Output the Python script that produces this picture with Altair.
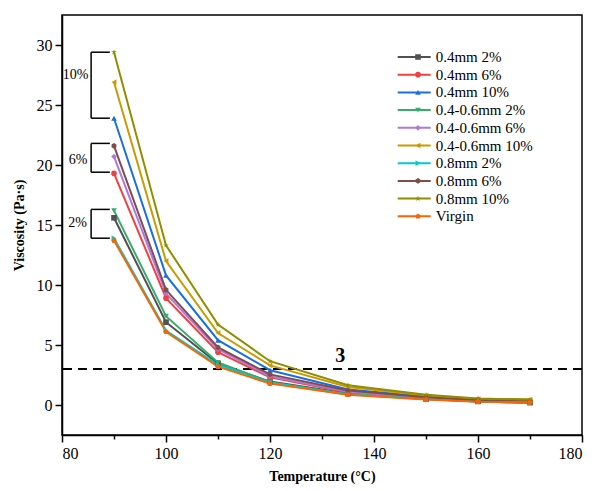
import altair as alt
import pandas as pd

temps = [90, 100, 110, 120, 135, 150, 160, 170]
series = ["0.4mm 2%", "0.4mm 6%", "0.4mm 10%", "0.4-0.6mm 2%", "0.4-0.6mm 6%",
          "0.4-0.6mm 10%", "0.8mm 2%", "0.8mm 6%", "0.8mm 10%", "Virgin"]
values = {
    "0.4mm 2%":      [15.6, 6.9, 3.45, 1.95, 0.95, 0.50, 0.30, 0.20],
    "0.4mm 6%":      [19.3, 8.9, 4.40, 2.30, 1.05, 0.55, 0.35, 0.28],
    "0.4mm 10%":     [23.9, 10.8, 5.40, 2.90, 1.30, 0.70, 0.45, 0.35],
    "0.4-0.6mm 2%":  [16.2, 7.4, 3.55, 1.90, 0.90, 0.50, 0.30, 0.15],
    "0.4-0.6mm 6%":  [20.7, 9.3, 4.65, 2.40, 1.10, 0.60, 0.40, 0.30],
    "0.4-0.6mm 10%": [26.9, 12.0, 6.00, 3.30, 1.50, 0.80, 0.50, 0.45],
    "0.8mm 2%":      [13.9, 6.2, 3.35, 1.85, 0.88, 0.50, 0.30, 0.20],
    "0.8mm 6%":      [21.6, 9.6, 4.80, 2.55, 1.20, 0.65, 0.40, 0.30],
    "0.8mm 10%":     [29.4, 13.3, 6.70, 3.65, 1.65, 0.85, 0.55, 0.45],
    "Virgin":        [13.7, 6.1, 3.20, 1.78, 0.85, 0.45, 0.28, 0.22],
}
colors = ["#515151", "#F14040", "#1A6FDF", "#37AD6B", "#B177DE",
          "#CC9900", "#00CBCC", "#7D4E4E", "#8E8E00", "#FB6501"]
hexagon = "M0,-1L0.866,-0.5L0.866,0.5L0,1L-0.866,0.5L-0.866,-0.5Z"
pentagon = "M0,-1L0.951,-0.309L0.588,0.809L-0.588,0.809L-0.951,-0.309Z"
star = ("M0,-1L0.235,-0.324L0.951,-0.309L0.380,0.124L0.588,0.809L0,0.4"
        "L-0.588,0.809L-0.380,0.124L-0.951,-0.309L-0.235,-0.324Z")
shapes = ["square", "circle", "triangle-up", "triangle-down", "diamond",
          "triangle-left", "triangle-right", hexagon, star, pentagon]

threshold = [3]
threshold_label = ["3"]
threshold_label_x = [133.5]
threshold_label_y = [4.05]

bracket_labels = ["10%", "6%", "2%"]
bracket_top = [29.4, 21.8, 16.3]
bracket_bottom = [23.9, 19.4, 13.9]
bracket_label_y = [27.5, 20.4, 15.15]
bracket_label_x = [82.6, 83.1, 83.0]
bracket_x_left = 85.6
bracket_x_right = 89.2

rows = []
for s in series:
    for t, v in zip(temps, values[s]):
        rows.append({"Temperature": t, "Viscosity": v, "Series": s})
df = pd.DataFrame(rows)

FONT = "Liberation Serif"
xscale = alt.Scale(domain=[80, 180], nice=False, zero=False)
yscale = alt.Scale(domain=[-2.5, 32.5], nice=False, zero=False)

x_ticks = list(range(80, 181, 10))
y_ticks = [i * 2.5 for i in range(0, 13)]

xaxis = alt.Axis(values=x_ticks, labelExpr="datum.value % 20 === 0 ? datum.label : ''",
                 tickSize={"condition": {"test": "datum.value % 20 !== 0", "value": 4}, "value": 7},
                 title="Temperature (°C)", titleY=41, titleBaseline="middle",
                 labelPadding=3, grid=False)
yaxis = alt.Axis(values=y_ticks, labelExpr="datum.value % 5 === 0 ? datum.label : ''",
                 tickSize={"condition": {"test": "datum.value % 5 !== 0", "value": 4}, "value": 7},
                 title="Viscosity (Pa·s)", titleX=-43, titleY=210, titleAngle=-90,
                 titleAlign="center", titleBaseline="middle", labelPadding=3, grid=False)

marker_legend = alt.Legend(title=None, orient="none", legendX=348.5, legendY=35,
                           symbolSize=32, symbolStrokeWidth=0, symbolOpacity=1,
                           labelExpr="''", labelFont=FONT, labelFontSize=15,
                           clipHeight=14, rowPadding=2.7, padding=0)

base = alt.Chart(df)
lines = base.mark_line(strokeWidth=2).encode(
    x=alt.X("Temperature:Q", scale=xscale, axis=xaxis),
    y=alt.Y("Viscosity:Q", scale=yscale, axis=yaxis),
    color=alt.Color("Series:N", scale=alt.Scale(domain=series, range=colors),
                    legend=alt.Legend(title=None, orient="none", legendX=334.7, legendY=35,
                                      symbolType="stroke", symbolSize=1089, symbolStrokeWidth=2,
                                      labelFont=FONT, labelFontSize=15, labelOffset=4,
                                      clipHeight=14, rowPadding=2.7, padding=0)),
    detail="Series:N",
)
points = base.mark_point(filled=True, size=32, strokeWidth=0, opacity=1).encode(
    x="Temperature:Q",
    y="Viscosity:Q",
    fill=alt.Fill("Series:N", scale=alt.Scale(domain=series, range=colors),
                  legend=marker_legend),
    shape=alt.Shape("Series:N", scale=alt.Scale(domain=series, range=shapes),
                    legend=marker_legend),
)

thr_df = pd.DataFrame({"y": threshold, "label": threshold_label,
                       "lx": threshold_label_x, "ly": threshold_label_y})
thr_line = alt.Chart(thr_df).mark_rule(color="black", strokeWidth=2, strokeDash=[9, 6]).encode(
    y="y:Q")
thr_text = alt.Chart(thr_df).mark_text(font=FONT, fontSize=20, fontWeight="bold",
                                       color="black").encode(
    x="lx:Q", y="ly:Q", text="label:N")

br_df = pd.DataFrame({"label": bracket_labels, "top": bracket_top, "bottom": bracket_bottom,
                      "ly": bracket_label_y, "lx": bracket_label_x,
                      "xl": [bracket_x_left] * 3, "xr": [bracket_x_right] * 3})
br_v = alt.Chart(br_df).mark_rule(color="black", strokeWidth=1.5).encode(
    x="xl:Q", y="top:Q", y2="bottom:Q")
br_t = alt.Chart(br_df).mark_rule(color="black", strokeWidth=1.5).encode(
    x="xl:Q", x2="xr:Q", y="top:Q")
br_b = alt.Chart(br_df).mark_rule(color="black", strokeWidth=1.5).encode(
    x="xl:Q", x2="xr:Q", y="bottom:Q")
br_text = alt.Chart(br_df).mark_text(font=FONT, fontSize=14, color="black").encode(
    x="lx:Q", y="ly:Q", text="label:N")

chart = alt.layer(thr_line, lines, points, thr_text, br_v, br_t, br_b, br_text).resolve_scale(
    color="independent"
).properties(
    width=520, height=420,
    padding={"left": 62, "top": 15, "right": 10, "bottom": 56},
    autosize=alt.AutoSizeParams(type="none"),
    background="white",
).configure_view(
    stroke="black", strokeWidth=1.5
).configure_axis(
    labelFont=FONT, labelFontSize=16, labelColor="black",
    titleFont=FONT, titleFontSize=14, titleFontWeight="bold", titleColor="black",
    domainColor="black", domainWidth=1.5, tickColor="black", tickWidth=1.5,
)

chart.save("out.html", embed_options={"renderer": "svg", "actions": False})
